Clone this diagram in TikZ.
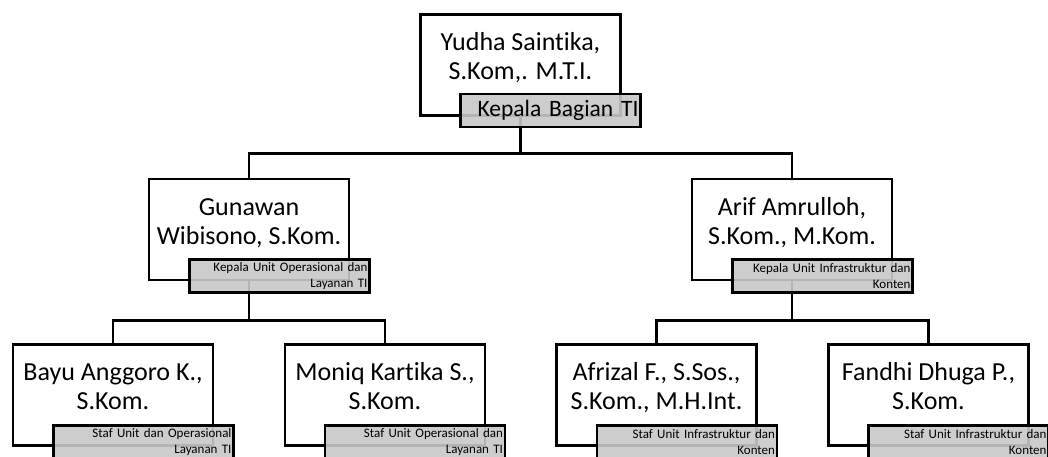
\documentclass[tikz,border=0pt]{standalone}
\usepackage{fontspec}
\setmainfont[Ligatures={NoCommon}]{Carlito}
\usetikzlibrary{backgrounds}
\definecolor{rolegray}{RGB}{200,200,200}
\begin{document}
\begin{tikzpicture}[x=1pt,y=-1pt,
  person/.style={draw=black, line width=2.8pt, fill=white, minimum width=200pt, minimum height=101pt, inner sep=0pt, font=\fontsize{26}{29}\selectfont},
  rolebig/.style={draw=black, line width=2.8pt, fill=rolegray, fill opacity=0.9, text opacity=1, minimum width=180pt, minimum height=33pt, inner xsep=2pt, inner ysep=0pt, text width=176pt, align=right, font=\fontsize{23.5}{26}\selectfont},
  rolesmall/.style={rolebig, font=\fontsize{13}{15.5}\selectfont},
  link/.style={line width=2.8pt}
]
\useasboundingbox (0,0) rectangle (1048,457);
\clip (0,0) rectangle (1048,457);
\newcommand\twolines[2]{\begin{tabular}{@{}c@{}}#1\\#2\\[11pt]\end{tabular}}

\node[person] (top) at (520.5,65) {\twolines{Yudha Saint\kern0pt ika,}{S.Kom,. M.T.I.}};
\node[rolebig] (topr) at (550.5,110.5) {Kepala Bagian TI};

\node[person] (m1) at (249,229.5) {\twolines{Gunawan}{Wibisono, S.Kom.}};
\node[rolesmall] (m1r) at (279.5,276) {Kepala Unit Operasional dan\\Layanan TI};

\node[person] (m2) at (792,229.5) {\twolines{Arif Amrulloh,}{S.Kom., M.Kom.}};
\node[rolesmall] (m2r) at (822.5,276) {Kepala Unit Infrastruktur dan\\Konten};

\node[person] (b1) at (113,395) {\twolines{Bayu Anggoro K.,}{S.Kom.}};
\node[rolesmall] (b1r) at (143.5,442) {Staf Unit dan Operasional\\Layanan TI};

\node[person] (b2) at (385,395) {\twolines{Moniq Kart\kern0pt ika S.,}{S.Kom.}};
\node[rolesmall] (b2r) at (415,442) {Staf Unit Operasional dan\\Layanan TI};

\node[person] (b3) at (656.5,395) {\twolines{Afrizal F., S.Sos.,}{S.Kom., M.H.Int.}};
\node[rolesmall] (b3r) at (687,442) {Staf Unit Infrastruktur dan\\Konten};

\node[person] (b4) at (928.5,395) {\twolines{Fandhi Dhuga P.,}{S.Kom.}};
\node[rolesmall] (b4r) at (958.5,442) {Staf Unit Infrastruktur dan\\Konten};

\begin{pgfonlayer}{background}
\draw[link] (top.south) -- ++(0,37) -| (m1.north);
\draw[link] (top.south) -- ++(0,37) -| (m2.north);
\draw[link] (m1.south) -- ++(0,39) -| (b1.north);
\draw[link] (m1.south) -- ++(0,39) -| (b2.north);
\draw[link] (m2.south) -- ++(0,39) -| (b3.north);
\draw[link] (m2.south) -- ++(0,39) -| (b4.north);
\end{pgfonlayer}
\end{tikzpicture}
\end{document}
